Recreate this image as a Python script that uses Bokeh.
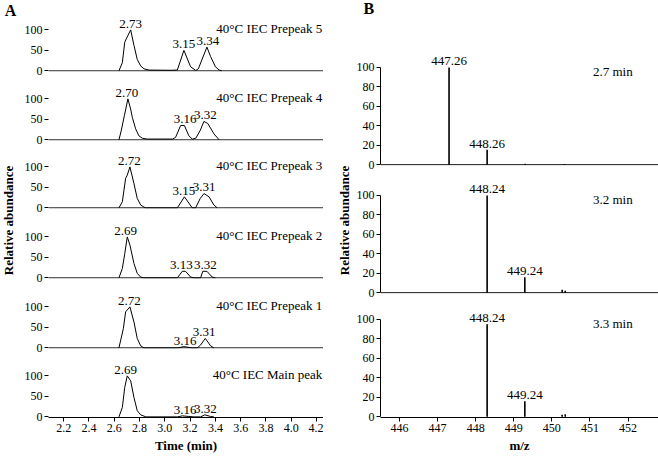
import math
from bokeh.plotting import figure
from bokeh.layouts import row, column
from bokeh.models import Range1d, FixedTicker, PrintfTickFormatter, Span, Title
from bokeh.core.properties import value
from bokeh.embed import file_html
from bokeh.resources import INLINE

FONT = "Liberation Serif"

# ---------------- Panel A : chromatograms (time in min, relative abundance) ----------------
cond_labels = ["40°C IEC Prepeak 5", "40°C IEC Prepeak 4", "40°C IEC Prepeak 3",
               "40°C IEC Prepeak 2", "40°C IEC Prepeak 1", "40°C IEC Main peak"]

t_p5 = [2.637, 2.664, 2.683, 2.695, 2.730, 2.756, 2.782, 2.809, 2.835, 2.875, 3.050, 3.099,
        3.151, 3.204, 3.245, 3.265, 3.333, 3.362, 3.400, 3.430, 3.450]
a_p5 = [0, 20, 70, 78, 100, 62, 28, 12, 5, 2, 1.5, 2, 50, 10, 1, 5, 58, 35, 10, 2, 0]

t_p4 = [2.637, 2.655, 2.680, 2.708, 2.730, 2.743, 2.769, 2.795, 2.822, 2.861, 3.060, 3.085,
        3.125, 3.155, 3.190, 3.217, 3.245, 3.280, 3.309, 3.340, 3.388, 3.430]
a_p4 = [0, 22, 59, 100, 75, 55, 27, 10, 4, 2, 2, 6, 35, 35, 10, 2, 4, 23, 45, 40, 15, 0]

t_p3 = [2.637, 2.664, 2.690, 2.703, 2.724, 2.756, 2.782, 2.809, 2.835, 2.850, 3.099, 3.155,
        3.217, 3.243, 3.280, 3.310, 3.350, 3.388, 3.415]
a_p3 = [0, 15, 72, 80, 100, 59, 23, 7, 2, 0, 0, 27, 0, 0, 23, 35, 27, 7, 0]

t_p2 = [2.637, 2.664, 2.683, 2.703, 2.724, 2.756, 2.782, 2.809, 2.835, 3.099, 3.138, 3.164,
        3.204, 3.235, 3.283, 3.300, 3.333, 3.375, 3.400]
a_p2 = [0, 23, 59, 100, 80, 35, 11, 2, 0, 0, 16, 16, 2, 0, 0, 16, 16, 2, 0]

t_p1 = [2.637, 2.672, 2.690, 2.724, 2.756, 2.782, 2.809, 2.835, 3.099, 3.151, 3.217, 3.257,
        3.283, 3.320, 3.362, 3.388]
a_p1 = [0, 47, 88, 100, 63, 23, 5, 0, 0, 3, 0, 0, 7, 23, 5, 0]

t_main = [2.637, 2.664, 2.683, 2.703, 2.730, 2.756, 2.782, 2.809, 2.850, 3.099, 3.138, 3.190,
          3.230, 3.283, 3.316, 3.362, 3.388]
a_main = [0, 23, 72, 100, 88, 47, 15, 5, 0, 0, 2.5, 1, 0, 0, 5, 1, 0]

# labelled peaks (retention time, apex height)
pk_t_p5 = [2.73, 3.15, 3.34];  pk_h_p5 = [100, 50, 58]
pk_t_p4 = [2.70, 3.16, 3.32];  pk_h_p4 = [100, 35, 45]
pk_t_p3 = [2.72, 3.15, 3.31];  pk_h_p3 = [100, 27, 35]
pk_t_p2 = [2.69, 3.13, 3.32];  pk_h_p2 = [100, 16, 16]
pk_t_p1 = [2.72, 3.16, 3.31];  pk_h_p1 = [100, 3, 23]
pk_t_main = [2.69, 3.16, 3.32]; pk_h_main = [100, 2.5, 5]

time_ticks = [2.2, 2.4, 2.6, 2.8, 3.0, 3.2, 3.4, 3.6, 3.8, 4.0, 4.2]
abund_ticks_a = [0, 50, 100]

# ---------------- Panel B : mass spectra ----------------
spec_labels = ["2.7 min", "3.2 min", "3.3 min"]
mz_27 = [447.30, 448.30, 449.30, 450.33]
int_27 = [100, 15.5, 1, 0.8]
lab_27 = ["447.26", "448.26"]

mz_32 = [448.30, 449.29, 450.27, 450.35]
int_32 = [100, 16, 3, 2]
lab_32 = ["448.24", "449.24"]

mz_33 = [448.30, 449.29, 450.27, 450.35]
int_33 = [95, 16, 2, 2.5]
lab_33 = ["448.24", "449.24"]

mz_ticks = [446, 447, 448, 449, 450, 451, 452]
abund_ticks_b = [0, 20, 40, 60, 80, 100]

# ---------------- layout constants ----------------
TOTAL_H = 461
BOTTOM = 44
GAP = 7
A_LEFT, A_FRAME_W = 28, 275
B_LEFT, B_FRAME_W = 28, 278
LAB_A_W, LAB_B_W = 20, 29
A_PPU = 0.41     # px per abundance unit, panel A
B_PPU = 0.973    # px per abundance unit, panel B
A_Y0, B_Y0 = -1.5, -0.8
A_FRAMES = [71, 62, 61, 63, 63, 62]
B_FRAMES = [165, 121, 117]
B_TOP = 10       # room above the first spectrum for the panel letter
B_STANDOFF = -12


def clean(p):
    p.outline_line_color = None
    for g in p.grid:
        g.grid_line_color = None
    p.background_fill_color = "white"
    p.border_fill_color = "white"


def style_axis(ax):
    ax.major_label_text_font = FONT
    ax.major_label_text_font_size = "12px"
    ax.major_label_text_color = "black"
    ax.major_tick_line_color = "black"
    ax.major_tick_out = 4
    ax.major_tick_in = 0
    ax.minor_tick_line_color = None
    ax.major_label_standoff = 2
    ax.axis_label_text_font = FONT
    ax.axis_label_text_font_size = "13px"
    ax.axis_label_text_font_style = "bold"
    ax.axis_label_text_color = "black"
    ax.axis_label_standoff = 3
    ax.axis_line_color = "black"


def chrom_fig(t, a, pk_t, pk_h, cond, frame_h, bottom_axis):
    bb = BOTTOM if bottom_axis else GAP
    p = figure(width=A_LEFT + A_FRAME_W, height=frame_h + bb, output_backend="svg",
               toolbar_location=None,
               x_range=Range1d(2.08, 4.255),
               y_range=Range1d(A_Y0, A_Y0 + frame_h / A_PPU),
               x_axis_type="linear" if bottom_axis else None,
               min_border_left=A_LEFT, min_border_right=0, min_border_top=0,
               min_border_bottom=bb)
    clean(p)
    ya = p.yaxis[0]
    style_axis(ya)
    ya.ticker = FixedTicker(ticks=abund_ticks_a)
    ya.axis_line_color = None
    if bottom_axis:
        xa = p.xaxis[0]
        style_axis(xa)
        xa.ticker = FixedTicker(ticks=time_ticks)
        xa.formatter = PrintfTickFormatter(format="%.1f")
        xa.axis_label = "Time (min)"
    else:
        p.add_layout(Span(location=0, dimension="width", line_color="black", line_width=1))
    p.line(t, a, line_color="black", line_width=1)
    p.text(x=pk_t, y=[v + 5 for v in pk_h], text=["%.2f" % v for v in pk_t],
           text_font=value(FONT), text_font_size="13px", text_color="black",
           text_align="center", text_baseline="bottom")
    p.text(x=[4.245], y=[103], text=[cond], text_font=value(FONT), text_font_size="13px",
           text_color="black", text_align="right", text_baseline="middle")
    return p


def spec_fig(mz, it, labs, tlabel, frame_h, bottom_axis, top=0, letter=None):
    bb = BOTTOM if bottom_axis else GAP
    p = figure(width=B_LEFT + B_FRAME_W, height=top + frame_h + bb, output_backend="svg",
               toolbar_location=None,
               x_range=Range1d(445.5, 452.8),
               y_range=Range1d(B_Y0, B_Y0 + frame_h / B_PPU),
               x_axis_type="linear" if bottom_axis else None,
               min_border_left=B_LEFT, min_border_right=0, min_border_top=top,
               min_border_bottom=bb)
    if letter is not None:
        p.title = Title(text=letter, align="left", offset=-17, standoff=B_STANDOFF,
                        vertical_align="bottom",
                        text_font=FONT, text_font_size="16px", text_font_style="bold",
                        text_color="black")
    clean(p)
    ya = p.yaxis[0]
    style_axis(ya)
    ya.ticker = FixedTicker(ticks=abund_ticks_b)
    ya.bounds = (0, 100)
    if bottom_axis:
        xa = p.xaxis[0]
        style_axis(xa)
        xa.ticker = FixedTicker(ticks=mz_ticks)
        xa.axis_label = "m/z"
    else:
        p.add_layout(Span(location=0, dimension="width", line_color="black", line_width=1))
    p.segment(x0=mz, y0=[0] * len(mz), x1=mz, y1=it, line_color="black", line_width=1.6)
    n = len(labs)
    p.text(x=mz[:n], y=[v + 2 for v in it[:n]], text=labs,
           text_font=value(FONT), text_font_size="13px", text_color="black",
           text_align="center", text_baseline="bottom")
    p.text(x=[451.08], y=[96], text=[tlabel], text_font=value(FONT), text_font_size="13px",
           text_color="black", text_align="left", text_baseline="middle")
    return p


def helper(w, h):
    p = figure(width=w, height=h, output_backend="svg", toolbar_location=None,
               x_range=Range1d(0, w), y_range=Range1d(0, h),
               x_axis_type=None, y_axis_type=None,
               min_border_left=0, min_border_right=0, min_border_top=0, min_border_bottom=0)
    clean(p)
    return p


# ---- panel A column ----
a_traces = [(t_p5, a_p5, pk_t_p5, pk_h_p5), (t_p4, a_p4, pk_t_p4, pk_h_p4),
            (t_p3, a_p3, pk_t_p3, pk_h_p3), (t_p2, a_p2, pk_t_p2, pk_h_p2),
            (t_p1, a_p1, pk_t_p1, pk_h_p1), (t_main, a_main, pk_t_main, pk_h_main)]
figs_a = []
for i, (t, a, pt, ph) in enumerate(a_traces):
    figs_a.append(chrom_fig(t, a, pt, ph, cond_labels[i], A_FRAMES[i], i == len(a_traces) - 1))
col_a = column(*figs_a, spacing=0)

# ---- panel B column ----
specs = [(mz_27, int_27, lab_27), (mz_32, int_32, lab_32), (mz_33, int_33, lab_33)]
figs_b = []
for i, (m, it, lb) in enumerate(specs):
    if i == 0:
        figs_b.append(spec_fig(m, it, lb, spec_labels[i], B_FRAMES[0] - B_TOP, False,
                               top=B_TOP, letter="B"))
    else:
        figs_b.append(spec_fig(m, it, lb, spec_labels[i], B_FRAMES[i], i == len(specs) - 1))
col_b = column(*figs_b, spacing=0)

# ---- side label strips ----
lab_a = helper(LAB_A_W, TOTAL_H)
lab_a.text(x=[10], y=[TOTAL_H - 10], text=["A"], text_font=value(FONT), text_font_size="16px",
           text_font_style="bold", text_color="black", text_align="center", text_baseline="middle")
lab_a.text(x=[8], y=[TOTAL_H - 220], text=["Relative abundance"], angle=math.pi / 2,
           text_font=value(FONT), text_font_size="13px", text_font_style="bold",
           text_color="black", text_align="center", text_baseline="middle")

lab_b = helper(LAB_B_W, TOTAL_H)
lab_b.text(x=[21], y=[TOTAL_H - 220], text=["Relative abundance"], angle=math.pi / 2,
           text_font=value(FONT), text_font_size="13px", text_font_style="bold",
           text_color="black", text_align="center", text_baseline="middle")

layout = row(lab_a, col_a, lab_b, col_b, spacing=0)

open("out.html", "w").write(file_html(layout, INLINE))
